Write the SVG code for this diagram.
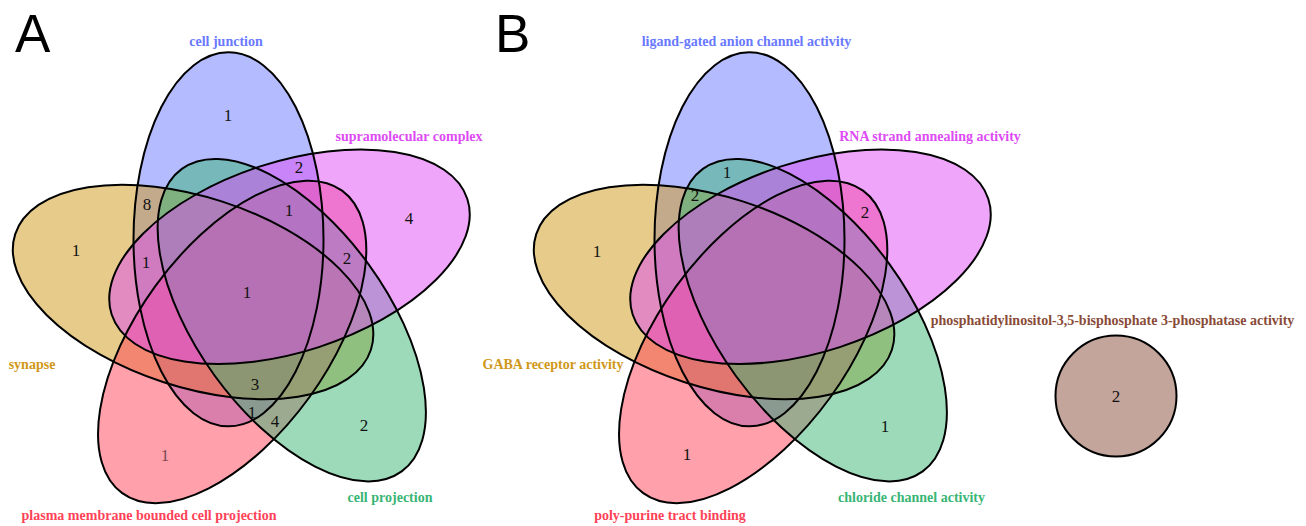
<svg xmlns="http://www.w3.org/2000/svg" xmlns:xlink="http://www.w3.org/1999/xlink" width="1306" height="526" viewBox="0 0 1306 526">
<style>
.f{fill-opacity:0.5;stroke:none}
.o{fill:none;stroke:#000;stroke-width:2}
.n{font-family:"Liberation Serif","Times New Roman",serif;font-size:17px;text-anchor:middle;fill:#111}
.l{font-family:"Liberation Serif","Times New Roman",serif;font-weight:bold;font-size:14px;text-anchor:middle}
.p{font-family:"Liberation Sans",Arial,sans-serif;font-size:53px;fill:#000}
.c1{fill:#6979ff}.c2{fill:#d09818}.c3{fill:#ff4257}.c4{fill:#39b575}.c5{fill:#dd4bf5}.c6{fill:#894b37}
</style>
<defs>
<ellipse id="e" cx="228.5" cy="239.3" rx="95" ry="187"/>
</defs>
<rect width="1306" height="526" fill="#fff"/>
<text class="p" x="15" y="52">A</text>
<text class="p" x="495" y="52">B</text>

<g id="panelA">
  <g id="A-cell-junction"><use xlink:href="#e" href="#e" class="f c1"/><text class="l c1" x="226" y="46">cell junction</text></g>
  <g id="A-synapse"><use xlink:href="#e" href="#e" class="f c2" transform="rotate(-72 247 290)"/><text class="l c2" x="32" y="369">synapse</text></g>
  <g id="A-plasma-membrane"><use xlink:href="#e" href="#e" class="f c3" transform="rotate(-144 247 290)"/><text class="l c3" x="149" y="520">plasma membrane bounded cell projection</text></g>
  <g id="A-cell-projection"><use xlink:href="#e" href="#e" class="f c4" transform="rotate(-216 247 290)"/><text class="l c4" x="390" y="502">cell projection</text></g>
  <g id="A-supramolecular"><use xlink:href="#e" href="#e" class="f c5" transform="rotate(-288 247 290)"/><text class="l c5" x="409" y="141">supramolecular complex</text></g>
  <g id="A-outlines">
    <use xlink:href="#e" href="#e" class="o"/>
    <use xlink:href="#e" href="#e" class="o" transform="rotate(-72 247 290)"/>
    <use xlink:href="#e" href="#e" class="o" transform="rotate(-144 247 290)"/>
    <use xlink:href="#e" href="#e" class="o" transform="rotate(-216 247 290)"/>
    <use xlink:href="#e" href="#e" class="o" transform="rotate(-288 247 290)"/>
  </g>
  <g id="A-counts">
    <text class="n" x="228" y="121">1</text>
    <text class="n" x="299" y="173">2</text>
    <text class="n" x="147" y="210">8</text>
    <text class="n" x="289" y="216">1</text>
    <text class="n" x="409" y="224">4</text>
    <text class="n" x="76" y="256">1</text>
    <text class="n" x="146" y="268">1</text>
    <text class="n" x="347" y="264">2</text>
    <text class="n" x="247" y="298">1</text>
    <text class="n" x="255" y="390">3</text>
    <text class="n" x="252" y="418">1</text>
    <text class="n" x="275" y="427">4</text>
    <text class="n" x="364" y="431">2</text>
    <text class="n" x="165" y="461" style="fill:#7a4a52">1</text>
  </g>
</g>

<g id="panelB" transform="translate(521 0)">
  <g id="B-ligand-gated"><use xlink:href="#e" href="#e" class="f c1"/><text class="l c1" x="225.5" y="46">ligand-gated anion channel activity</text></g>
  <g id="B-gaba"><use xlink:href="#e" href="#e" class="f c2" transform="rotate(-72 247 290)"/><text class="l c2" x="32" y="369">GABA receptor activity</text></g>
  <g id="B-poly-purine"><use xlink:href="#e" href="#e" class="f c3" transform="rotate(-144 247 290)"/><text class="l c3" x="149" y="520">poly-purine tract binding</text></g>
  <g id="B-chloride"><use xlink:href="#e" href="#e" class="f c4" transform="rotate(-216 247 290)"/><text class="l c4" x="390.5" y="502">chloride channel activity</text></g>
  <g id="B-rna-annealing"><use xlink:href="#e" href="#e" class="f c5" transform="rotate(-288 247 290)"/><text class="l c5" x="409" y="141">RNA strand annealing activity</text></g>
  <g id="B-outlines">
    <use xlink:href="#e" href="#e" class="o"/>
    <use xlink:href="#e" href="#e" class="o" transform="rotate(-72 247 290)"/>
    <use xlink:href="#e" href="#e" class="o" transform="rotate(-144 247 290)"/>
    <use xlink:href="#e" href="#e" class="o" transform="rotate(-216 247 290)"/>
    <use xlink:href="#e" href="#e" class="o" transform="rotate(-288 247 290)"/>
  </g>
  <g id="B-counts">
    <text class="n" x="206" y="178">1</text>
    <text class="n" x="174" y="201">2</text>
    <text class="n" x="344" y="218">2</text>
    <text class="n" x="76" y="257">1</text>
    <text class="n" x="364" y="432">1</text>
    <text class="n" x="166" y="460">1</text>
  </g>
  <g id="B-phosphatase">
    <circle cx="595" cy="396" r="60.5" class="c6" fill-opacity="0.5" stroke="#000" stroke-width="2"/>
    <text class="l c6" x="591.5" y="325">phosphatidylinositol-3,5-bisphosphate 3-phosphatase activity</text>
    <text class="n" x="595" y="402">2</text>
  </g>
</g>
</svg>
